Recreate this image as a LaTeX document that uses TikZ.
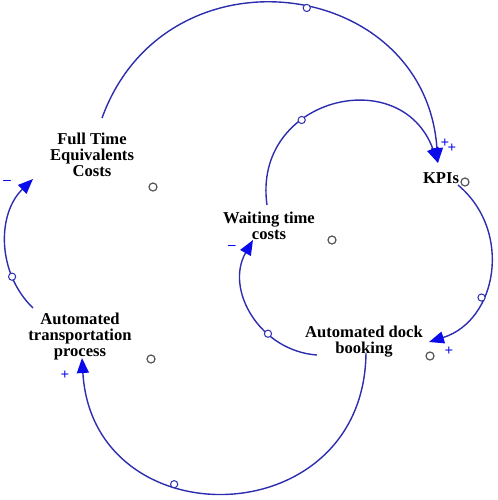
\documentclass[tikz,border=0pt]{standalone}
\usepackage{fontspec}
\setmainfont{Liberation Serif}
\usetikzlibrary{arrows.meta}
\definecolor{linkblue}{RGB}{45,45,175}
\definecolor{tipblue}{RGB}{10,10,235}
\definecolor{markgray}{RGB}{85,85,85}

\begin{document}
\begin{tikzpicture}[x=0.5pt, y=-0.5pt,
  var/.style={align=center, inner sep=0pt, font=\fontsize{8.3}{8}\selectfont\bfseries},
  line/.style={draw=linkblue, line width=0.7pt, -{Triangle[length=7.5pt, width=6pt, color=tipblue]}},
  handle/.style={circle, draw=linkblue, fill=white, line width=0.5pt, inner sep=0pt, minimum size=3.6pt},
  shadow/.style={circle, draw=markgray, fill=white, line width=0.6pt, inner sep=0pt, minimum size=4pt},
  sign/.style={text=tipblue, inner sep=0pt, font=\fontsize{7.5}{7.5}\selectfont\bfseries}]

  \useasboundingbox (0,0) rectangle (498,500);

  \node [var] (fte) at (92,155) {Full Time\\Equivalents\\Costs};
  \node [var] (wait) at (269,225.5) {Waiting time\\costs};
  \node [var] (kpi) at (441,178) {KPIs};
  \node [var] (dock) at (364,342) {Automated dock\\booking};
  \node [var] (trans) at (80,337) {Automated\\transportation\\process};

  % little circles next to the variables
  \node [shadow] (fte-o) at (153,187) {};
  \node [shadow] (wait-o) at (332,240) {};
  \node [shadow] (kpi-o) at (465,182) {};
  \node [shadow] (dock-o) at (430,356) {};
  \node [shadow] (trans-o) at (151,359) {};

  \path [line] ([shift={(10,-37)}]fte.center) to[out=70, in=94, looseness=1.41]
    node [handle, pos=0.54] (h1) {} ([shift={(-3,-15)}]kpi.center);
  \path [line] ([shift={(-2,-20.5)}]wait.center) to[out=98, in=110, looseness=1.57]
    node [handle, pos=0.36] (h2) {} ([shift={(-3,-15)}]kpi.center);
  \path [line] ([shift={(17,7)}]kpi.center) to[out=-40, in=17.5, looseness=1.15]
    node [handle, pos=0.64] (h3) {} ([shift={(65,0)}]dock.center);
  \path [line] ([shift={(-47,13)}]dock.center) to[out=176, in=240, looseness=1.11]
    node [handle, pos=0.34] (h4) {} ([shift={(-16,14.5)}]wait.center);
  \path [line] ([shift={(2,11)}]dock.center) to[out=-90.6, in=-86.6, looseness=1.645]
    node [handle, pos=0.63] (h5) {} ([shift={(2,21)}]trans.center);
  \path [line] ([shift={(-47,-29)}]trans.center) to[out=136, in=224, looseness=1.0]
    node [handle, pos=0.26] (h6) {} ([shift={(-59,24)}]fte.center);

  % polarities
  \node [sign] (p1) at (445,143) {+};
  \node [sign] (p2) at (452,148) {+};
  \node [sign] (p3) at (7,182) {--};
  \node [sign] (p4) at (232,247) {--};
  \node [sign] (p5) at (449,351) {+};
  \node [sign] (p6) at (65,375) {+};
\end{tikzpicture}
\end{document}
